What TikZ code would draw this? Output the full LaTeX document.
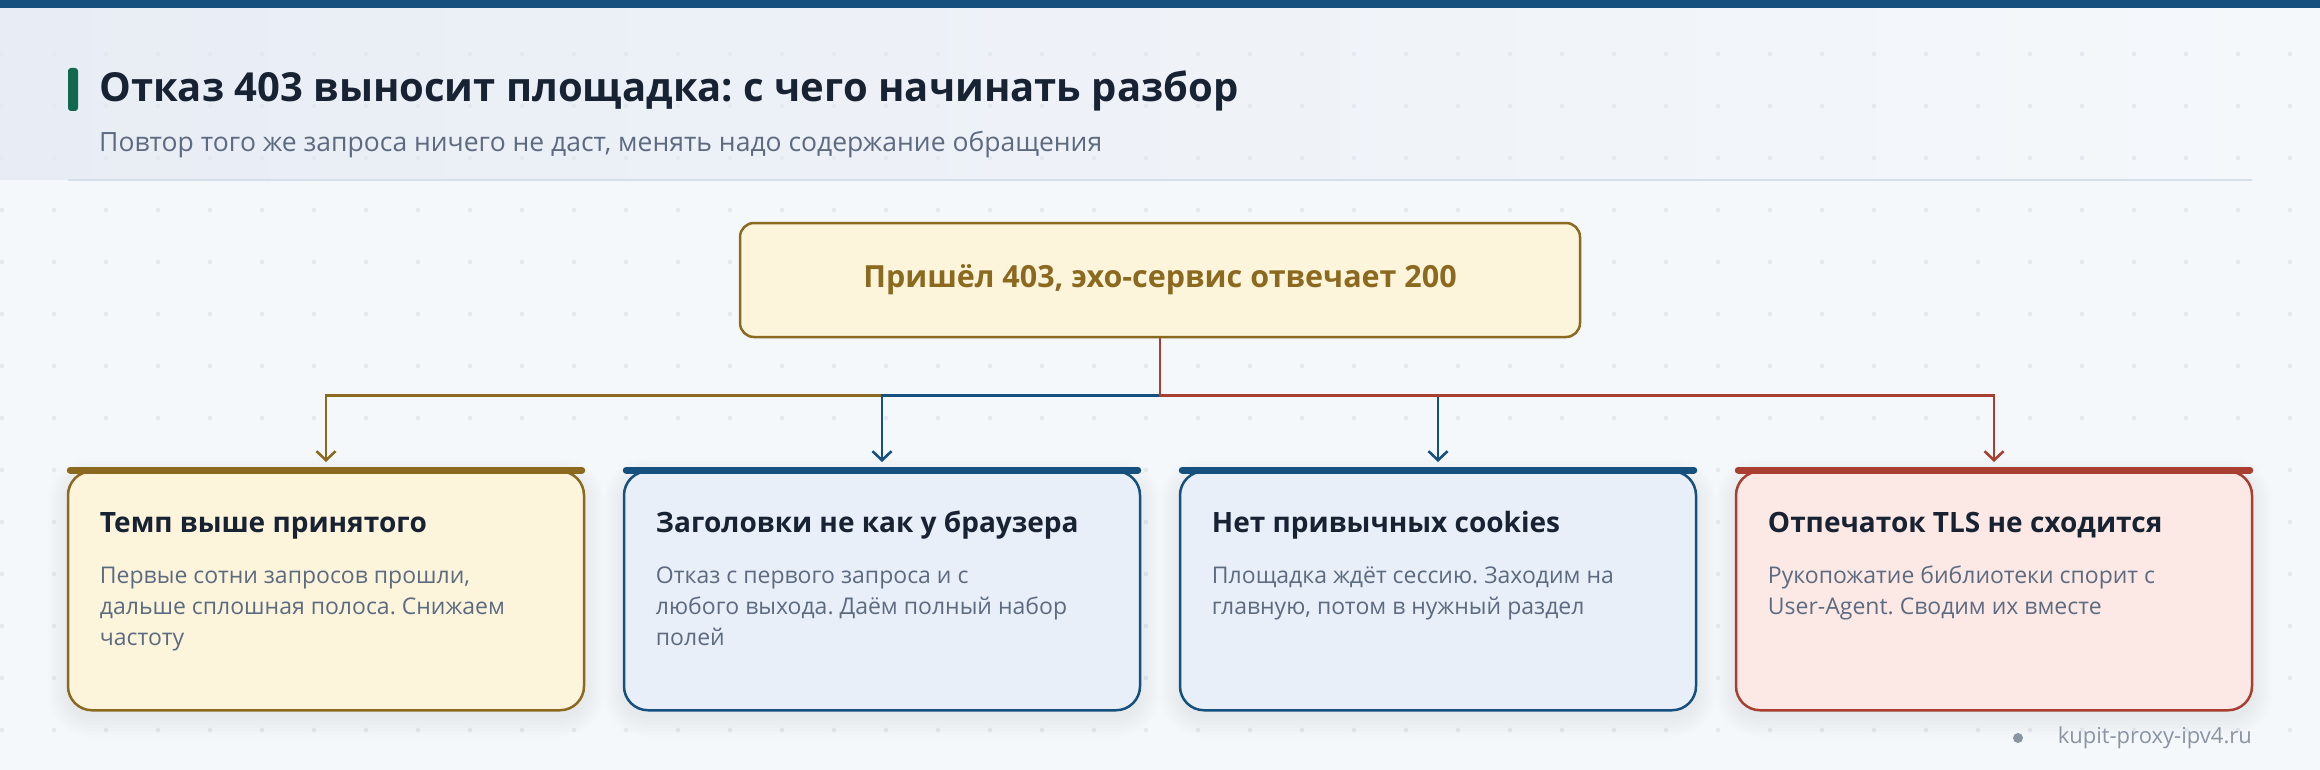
\documentclass[tikz,border=0pt]{standalone}
\usepackage{fontspec}
\setmainfont{Open Sans}
\usetikzlibrary{calc,arrows.meta}
\definecolor{topblue}{HTML}{15507E}
\definecolor{accentgreen}{HTML}{10694F}
\definecolor{inkdark}{HTML}{172233}
\definecolor{inkgray}{HTML}{5C6B80}
\definecolor{pagebg}{HTML}{F5F8FB}
\definecolor{headbg}{HTML}{E8EDF5}
\definecolor{dotgray}{HTML}{E4E9F0}
\definecolor{rulegray}{HTML}{D6DEE7}
\definecolor{goldc}{HTML}{8B6A1F}
\definecolor{goldfill}{HTML}{FDF4DC}
\definecolor{bluec}{HTML}{16507E}
\definecolor{bluefill}{HTML}{E8EFF8}
\definecolor{redc}{HTML}{A83F30}
\definecolor{redfill}{HTML}{FCE9E5}
\definecolor{footgray}{HTML}{8A94A3}
\definecolor{shadowc}{HTML}{1E3350}
\def\px#1#2{\fontsize{#1}{#2}\selectfont}
\frenchspacing

\begin{document}
\begin{tikzpicture}[x=1pt,y=-1pt,
	rootbox/.style={draw=goldc, fill=goldfill, line width=2.5pt, rounded corners=14pt,
		minimum width=840pt, minimum height=114pt, text=goldc, font=\px{30.5}{36}\bfseries},
	cardbox/.style 2 args={draw=#1, fill=#2, line width=2.5pt, rounded corners=24pt,
		minimum width=516pt, minimum height=239pt, inner sep=0pt, anchor=north},
	cardbar/.style={line width=7pt, line cap=round, shorten <=3.5pt, shorten >=3.5pt},
	cardtitle/.style={anchor=base west, inner sep=0pt, text=inkdark, font=\px{28}{34}\bfseries},
	cardbody/.style={anchor=north west, inner sep=0pt, align=left, text=inkgray, font=\px{23}{31}},
	edge/.style={line width=2.6pt, -{Straight Barb[length=9pt,width=19pt]}, shorten >=8pt}]
		%%%%% START %%%%%
		
		\useasboundingbox (0,0) rectangle (2320,770);
		\fill[pagebg] (0,0) rectangle (2320,770);
		
		% header band
		\shade[left color=headbg, right color=pagebg] (0,8) rectangle (2320,180);
		
		% dot grid
		\foreach \i in {0,...,44}
			\foreach \j in {1,...,14}
				\fill[dotgray] (2+52*\i, 2+52*\j) circle (2.3pt);
		
		\fill[topblue] (0,0) rectangle (2320,8);
		\fill[accentgreen, rounded corners=3pt] (68,68) rectangle (78,111);
		\node[anchor=base west, inner sep=0pt, text=inkdark, font=\px{40}{46}\bfseries] (title) at (99,102)
			{Отказ 403 выносит площадка: с чего начинать разбор};
		\node[anchor=base west, inner sep=0pt, text=inkgray, font=\px{26.5}{32}] (subtitle) at (99,152)
			{Повтор того же запроса ничего не даст, менять надо содержание обращения};
		\draw[line width=2pt, rulegray] (68,180) -- (2252,180);
		
		% root
		\node[rootbox] (root) at (1160,280) {Пришёл 403, эхо-сервис отвечает 200};
		
		% soft card shadows
		\foreach \cx in {326,882,1438,1994}
			\foreach \s in {2,5,...,20}
				\fill[shadowc, opacity=0.009, rounded corners=24+\s]
					(\cx-258-\s, 478-\s) rectangle (\cx+258+\s, 717+\s);
		
		% cards
		\node[cardbox={goldc}{goldfill}] (c1) at (326,470) {};
		\node[cardbox={bluec}{bluefill}] (c2) at (882,470) {};
		\node[cardbox={bluec}{bluefill}] (c3) at (1438,470) {};
		\node[cardbox={redc}{redfill}] (c4) at (1994,470) {};
		
		\draw[cardbar, goldc] (c1.north west) -- (c1.north east);
		\draw[cardbar, bluec] (c2.north west) -- (c2.north east);
		\draw[cardbar, bluec] (c3.north west) -- (c3.north east);
		\draw[cardbar, redc] (c4.north west) -- (c4.north east);
		
		% connectors
		\draw[edge, goldc] (root.south) -- ++(0,57) -| (c1.north);
		\draw[edge, bluec] (root.south) -- ++(0,57) -| (c2.north);
		\draw[edge, bluec] (root.south) -- ++(0,57) -| (c3.north);
		\draw[edge, redc] (root.south) -- ++(0,57) -| (c4.north);
		
		% card texts
		\node[cardtitle] (t1) at ($(c1.north west)+(33,62)$) {Темп выше принятого};
		\node[cardbody] (b1) at ($(c1.north west)+(33,91.3)$)
			{\strut Первые сотни запросов прошли,\\дальше сплошная полоса. Снижаем\\частоту};
		\node[cardtitle] (t2) at ($(c2.north west)+(33,62)$) {Заголовки не как у браузера};
		\node[cardbody] (b2) at ($(c2.north west)+(33,91.3)$)
			{\strut Отказ с первого запроса и с\\любого выхода. Даём полный набор\\полей};
		\node[cardtitle] (t3) at ($(c3.north west)+(33,62)$) {Нет привычных cookies};
		\node[cardbody] (b3) at ($(c3.north west)+(33,91.3)$)
			{\strut Площадка ждёт сессию. Заходим на\\главную, потом в нужный раздел};
		\node[cardtitle] (t4) at ($(c4.north west)+(33,62)$) {Отпечаток TLS не сходится};
		\node[cardbody] (b4) at ($(c4.north west)+(33,91.3)$)
			{\strut Рукопожатие библиотеки спорит с\\User-Agent. Сводим их вместе};
		
		% footer
		\fill[footgray] (2018,738) circle (5pt);
		\node[anchor=east, inner sep=0pt, text=footgray, font=\px{22}{26}] (site) at (2252,738) {kupit-proxy-ipv4.ru};
		
		%%%%% END %%%%%
	\end{tikzpicture}
\end{document}
